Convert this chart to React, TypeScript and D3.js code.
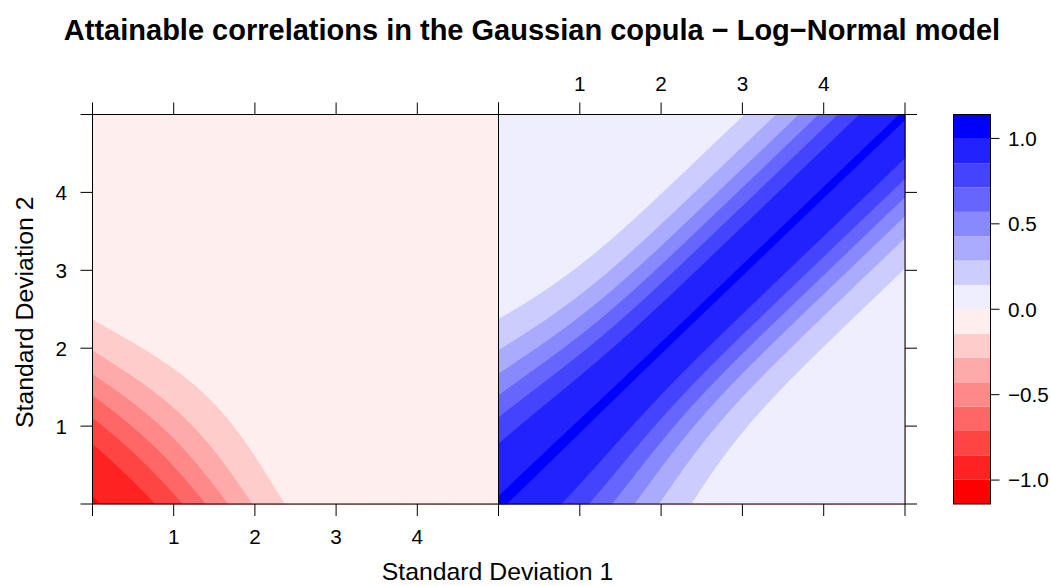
import * as d3 from 'd3';
import { useMemo } from 'react';

// axis ticks (standard deviations), labelled only 1..4 like lattice did
const sigmaTicks = [0, 1, 2, 3, 4, 5];
const sigmaTickLabels = ['', '1', '2', '3', '4', ''];
const sigmaDomain = [0, 5];

// colour key: 16 levels over the padded range of the correlations
const zDomain = [-1.14, 1.14];
const keyTicks = [-1, -0.5, 0, 0.5, 1];
const keyTickLabels = ['\u22121.0', '\u22120.5', '0.0', '0.5', '1.0'];
const bandColors = [
  '#FF0000', '#FF2222', '#FF4444', '#FF6666', '#FF8888', '#FFAAAA', '#FFCCCC', '#FFEEEE',
  '#EEEEFF', '#CCCCFF', '#AAAAFF', '#8888FF', '#6666FF', '#4444FF', '#2222FF', '#0000FF',
];

const panelNames = ['min', 'max'];
const gridN = 250;

const title = 'Attainable correlations in the Gaussian copula \u2212 Log\u2212Normal model';
const xLabel = 'Standard Deviation 1';
const yLabel = 'Standard Deviation 2';

// log-normal attainable correlation (comonotone / countermonotone)
const lnCorr = (s1: number, s2: number, sign: number) =>
  Math.expm1(sign * s1 * s2) / Math.sqrt(Math.expm1(s1 * s1) * Math.expm1(s2 * s2));

const FONT = '"Liberation Sans", Arial, Helvetica, sans-serif';

export default function App() {
  const width = 1051;
  const height = 586;
  const top = 114.5;
  const bottom = 504;
  const panelX = [92.5, 498.5, 905];
  const key = { x0: 953.5, x1: 990.5 };
  const tickFont = 20.7;

  const yScale = d3.scaleLinear().domain(sigmaDomain).range([bottom, top]);
  const xScales = [0, 1].map((p) =>
    d3.scaleLinear().domain(sigmaDomain).range([panelX[p], panelX[p + 1]])
  );
  const zScale = d3.scaleLinear().domain(zDomain).range([bottom, top]);
  const breaks = d3.range(bandColors.length + 1).map((k) =>
    zDomain[0] + (k * (zDomain[1] - zDomain[0])) / bandColors.length
  );

  const panels = useMemo(() => {
    const step = (sigmaDomain[1] - sigmaDomain[0]) / gridN;
    return panelNames.map((name, p) => {
      const sign = name === 'min' ? -1 : 1;
      const values: number[] = new Array(gridN * gridN);
      for (let j = 0; j < gridN; j++) {
        const s2 = (j + 0.5) * step;
        for (let i = 0; i < gridN; i++) {
          const s1 = (i + 0.5) * step;
          values[j * gridN + i] = lnCorr(s1, s2, sign);
        }
      }
      const xs = xScales[p];
      const proj = d3.geoTransform({
        point(x: number, y: number) {
          // @ts-ignore
          this.stream.point(xs(x * step), yScale(y * step));
        },
      });
      const path = d3.geoPath(proj);
      const contours = d3.contours().size([gridN, gridN]).thresholds(breaks.slice(0, -1))(values);
      return contours.map((c, k) => ({ d: path(c as any) || '', fill: bandColors[k] }));
    });
  }, []);

  const tick = 12;

  return (
    <svg width={width} height={height} style={{ position: 'absolute', left: 0, top: 0 }} fontFamily={FONT}>
      <rect width={width} height={height} fill="white" />
      <text x={532} y={40} textAnchor="middle" fontSize={29} fontWeight="bold">
        {title}
      </text>

      {panels.map((bands, p) => (
        <g key={p}>
          {bands.map((b, k) => (
            <path key={k} d={b.d} fill={b.fill} stroke={b.fill} strokeWidth={0.3} />
          ))}
        </g>
      ))}

      {/* panel frames */}
      {[0, 1].map((p) => (
        <rect key={p} x={panelX[p]} y={top} width={panelX[p + 1] - panelX[p]} height={bottom - top}
          fill="none" stroke="black" strokeWidth={1} />
      ))}

      {/* top and bottom ticks for both panels */}
      {[0, 1].map((p) => (
        <g key={'t' + p}>
          {sigmaTicks.map((t) => (
            <g key={t}>
              <line x1={xScales[p](t)} x2={xScales[p](t)} y1={top} y2={top - tick} stroke="black" />
              <line x1={xScales[p](t)} x2={xScales[p](t)} y1={bottom} y2={bottom + tick} stroke="black" />
            </g>
          ))}
        </g>
      ))}
      {/* bottom labels on left panel, top labels on right panel */}
      {sigmaTicks.map((t, i) => (
        <text key={'bl' + t} x={xScales[0](t)} y={544} textAnchor="middle" fontSize={tickFont}>
          {sigmaTickLabels[i]}
        </text>
      ))}
      {sigmaTicks.map((t, i) => (
        <text key={'tl' + t} x={xScales[1](t)} y={91} textAnchor="middle" fontSize={tickFont}>
          {sigmaTickLabels[i]}
        </text>
      ))}

      {/* y ticks: left of left panel, right of right panel */}
      {sigmaTicks.map((t, i) => (
        <g key={'y' + t}>
          <line x1={panelX[0] - tick} x2={panelX[0]} y1={yScale(t)} y2={yScale(t)} stroke="black" />
          <line x1={panelX[2]} x2={panelX[2] + tick} y1={yScale(t)} y2={yScale(t)} stroke="black" />
          <text x={67} y={yScale(t) + 7.4} textAnchor="end" fontSize={tickFont}>
            {sigmaTickLabels[i]}
          </text>
        </g>
      ))}

      {/* axis titles */}
      <text x={497.5} y={580} textAnchor="middle" fontSize={24.8}>
        {xLabel}
      </text>
      <text transform={`translate(33, ${(top + bottom) / 2 + 3}) rotate(-90)`} textAnchor="middle" fontSize={24.8}>
        {yLabel}
      </text>

      {/* colour key */}
      {bandColors.map((c, k) => (
        <rect key={c} x={key.x0} width={key.x1 - key.x0} y={zScale(breaks[k + 1])}
          height={zScale(breaks[k]) - zScale(breaks[k + 1])} fill={c} />
      ))}
      <rect x={key.x0} y={top} width={key.x1 - key.x0} height={bottom - top} fill="none" stroke="black" />
      {keyTicks.map((t, i) => (
        <g key={'k' + t}>
          <line x1={key.x1} x2={key.x1 + 9} y1={zScale(t)} y2={zScale(t)} stroke="black" />
          <text x={1008} y={zScale(t) + 7.4} fontSize={tickFont}>
            {keyTickLabels[i]}
          </text>
        </g>
      ))}
    </svg>
  );
}
